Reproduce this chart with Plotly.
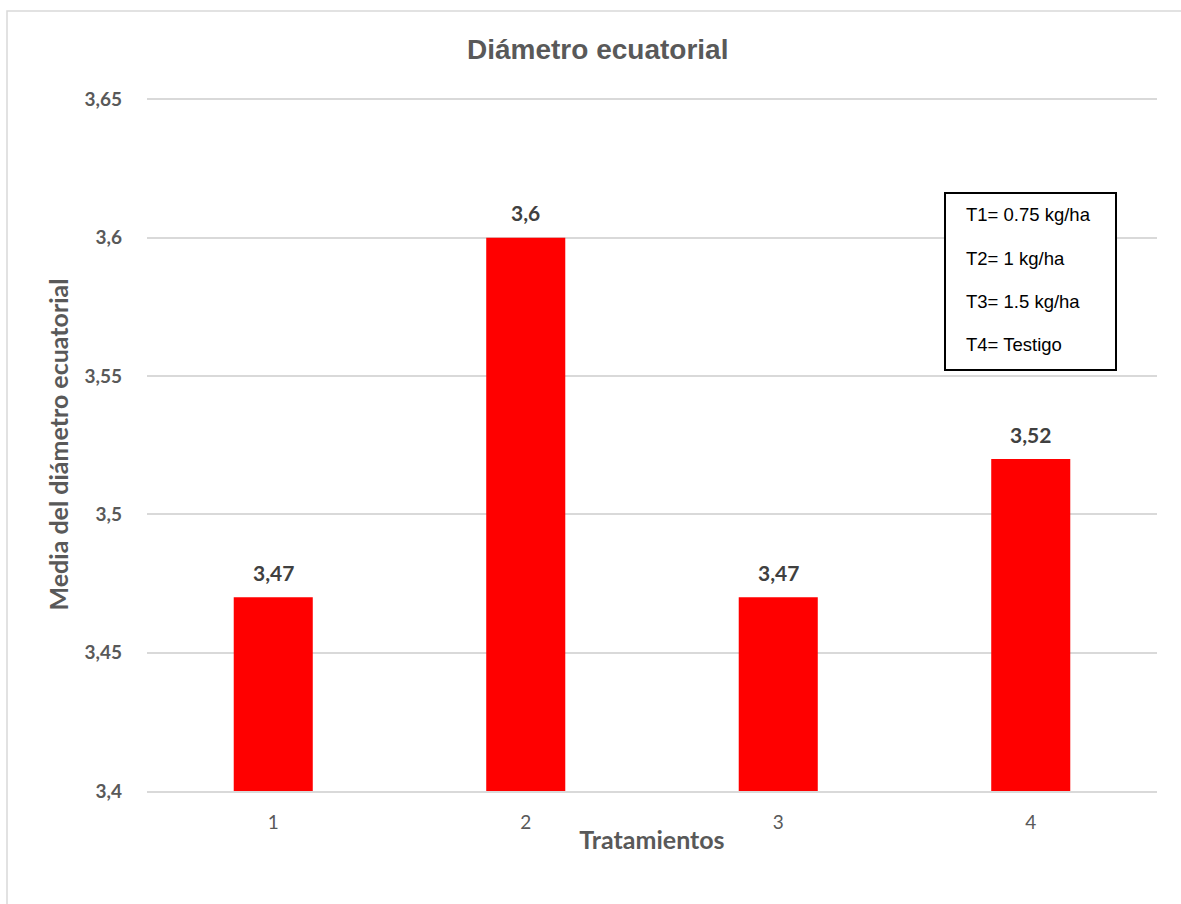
import plotly.graph_objects as go

categories = ["1", "2", "3", "4"]
values = [3.47, 3.60, 3.47, 3.52]
y_ticks = [3.4, 3.45, 3.5, 3.55, 3.6, 3.65]
legend_lines = ["T1= 0.75 kg/ha", "T2= 1 kg/ha", "T3= 1.5 kg/ha", "T4= Testigo"]

W, H = 1181, 904
L, R, T, B = 147, 1157, 98, 791
FONT = "Lato, Open Sans, sans-serif"
ARIAL = "Liberation Sans"

def px(x):
    return (x - L) / (R - L)

def py(y):
    return (B - y) / (B - T)

fig = go.Figure()
fig.add_trace(go.Bar(
    x=categories, y=values,
    marker=dict(color="#ff0000", line=dict(width=0)),
    width=0.313,
    hoverinfo="x+y",
))

for i, v in enumerate(values):
    fig.add_annotation(
        x=i, y=v, xref="x", yref="y", text="<b>%s</b>" % str(v).replace(".", ","),
        showarrow=False, yanchor="middle", yshift=25,
        font=dict(family=FONT, size=21, color="#404040"),
    )

fig.update_layout(
    width=W, height=H,
    margin=dict(l=L, r=W - R, t=T, b=H - B),
    paper_bgcolor="white", plot_bgcolor="white",
    separators=",.",
    showlegend=False,
    xaxis=dict(
        type="category", range=[-0.5, 3.5],
        showgrid=False, zeroline=False, ticks="",
        showline=True, linecolor="#d9d9d9", linewidth=1.5,
        tickfont=dict(family=FONT, size=19, color="#595959"),
        ticklabelstandoff=13,
        title=dict(text="<b>Tratamientos</b>", standoff=0,
                   font=dict(family=FONT, size=25, color="#595959")),
    ),
    yaxis=dict(
        range=[3.4, 3.6505], tickvals=y_ticks,
        showgrid=True, gridcolor="#d9d9d9", gridwidth=1.5,
        zeroline=False, showline=False, ticks="",
        tickfont=dict(family=FONT, size=19, color="#595959", weight="bold"),
        ticklabelstandoff=24,
        title=dict(text="<b>Media del diámetro ecuatorial</b>", standoff=8,
                   font=dict(family=FONT, size=25, color="#595959")),
    ),
    bargap=0.687,
)

fig.add_annotation(
    text="<b>Diámetro ecuatorial</b>", xref="paper", yref="paper",
    x=px(597), y=py(50), xanchor="center", yanchor="middle", showarrow=False,
    font=dict(family=ARIAL, size=28, color="#595959"),
)

# outer chart border
fig.add_shape(type="rect", xref="paper", yref="paper",
              x0=px(7), x1=px(1190), y0=py(915), y1=py(11),
              line=dict(color="#d9d9d9", width=1.5), fillcolor="rgba(0,0,0,0)", layer="below")

# text box
fig.add_shape(type="rect", xref="paper", yref="paper",
              x0=px(945), x1=px(1116), y0=py(370), y1=py(193),
              line=dict(color="black", width=2), fillcolor="white", layer="above")
for i, line in enumerate(legend_lines):
    fig.add_annotation(
        text=line, xref="paper", yref="paper",
        x=px(964), y=py(215 + i * 43.3), xanchor="left", yanchor="middle", showarrow=False,
        font=dict(family=ARIAL, size=18.5, color="black"),
    )

fig.write_html("out.html")
